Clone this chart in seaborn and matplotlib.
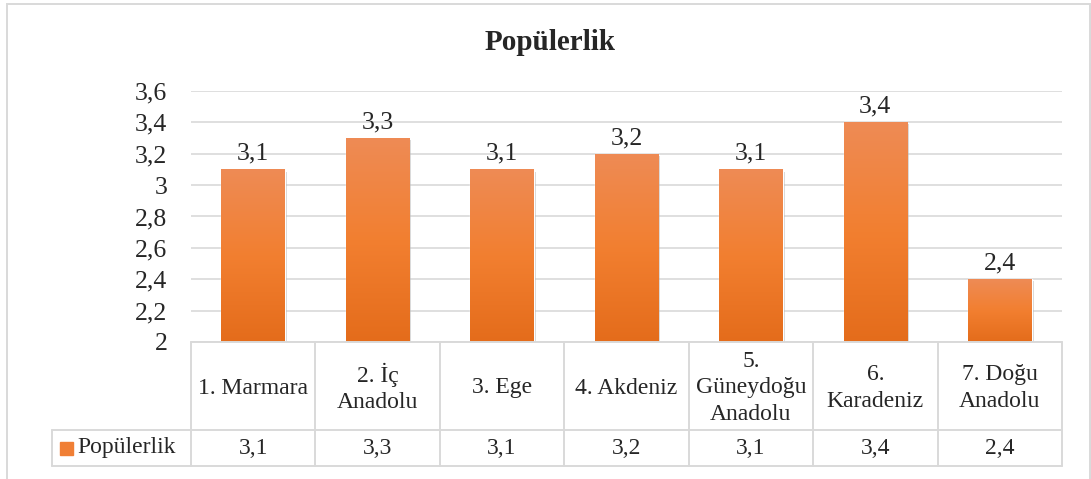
import matplotlib.pyplot as plt
import matplotlib.patheffects as pe
import numpy as np
import seaborn as sns
from matplotlib.colors import LinearSegmentedColormap
from matplotlib.lines import Line2D
from matplotlib.patches import Rectangle
from matplotlib.transforms import blended_transform_factory

# Data
categories = ['1. Marmara', '2. İç\nAnadolu', '3. Ege', '4. Akdeniz',
              '5.\nGüneydoğu\nAnadolu', '6.\nKaradeniz', '7. Doğu\nAnadolu']
values = [3.1, 3.3, 3.1, 3.2, 3.1, 3.4, 2.4]
value_labels = ['3,1', '3,3', '3,1', '3,2', '3,1', '3,4', '2,4']
series_name = 'Popülerlik'
yticks = [2.0, 2.2, 2.4, 2.6, 2.8, 3.0, 3.2, 3.4, 3.6]
ytick_labels = ['2', '2,2', '2,4', '2,6', '2,8', '3', '3,2', '3,4', '3,6']

sns.set_style('white')
plt.rcParams['font.family'] = ['Liberation Serif', 'DejaVu Serif']

W, H = 1091, 479
fig = plt.figure(figsize=(W / 100, H / 100), dpi=100)

def fx(px):
    return px / W

def fy(py):
    return 1 - py / H

# plot area in pixels
left, right, top, base = 191, 1062, 91, 342
ax = fig.add_axes([fx(left), fy(base), fx(right - left), (base - top) / H])

grad = LinearSegmentedColormap.from_list('og', ['#E46C1B', '#F27F30', '#EE8B55'])

sns.barplot(x=list(range(len(values))), y=values, ax=ax, width=0.51,
            color='#F27F30', saturation=1, zorder=3)

ax.set_ylim(2, 3.6)
ax.set_xlim(-0.5, len(values) - 0.5)
ax.set_yticks(yticks)
ax.set_yticklabels(ytick_labels, fontsize=18.5)
ax.tick_params(axis='y', length=0, pad=17)
ax.set_xticks([])
ax.set_xlabel('')
ax.yaxis.grid(True, color='#D9D9D9', lw=1.2, zorder=0)
for s in ax.spines.values():
    s.set_visible(False)

# gradient fill + soft shadow for each bar
g = np.linspace(0, 1, 256).reshape(-1, 1)
for p, lab in zip(ax.patches, value_labels):
    x0, w, h = p.get_x(), p.get_width(), p.get_height()
    p.set_path_effects([pe.SimplePatchShadow(offset=(1.5, -1.5), shadow_rgbFace='#999999', alpha=0.45),
                        pe.Normal()])
    im = ax.imshow(g, cmap=grad, aspect='auto', origin='lower',
                   extent=(x0, x0 + w, 2, h), zorder=4)
    im.set_clip_path(p)
    ax.text(x0 + w / 2, h + 0.03, lab, ha='center', va='bottom', fontsize=18.5, zorder=5)

# title
fig.text(0.504, fy(43), series_name, ha='center', va='center',
         fontsize=21, fontweight='bold')

# data table under the axis
tr = blended_transform_factory(ax.transData, fig.transFigure)
line_kw = dict(color='#D9D9D9', lw=1.4)
y_head_top, y_mid, y_bot = fy(342), fy(430), fy(466)
for i in range(len(values) + 1):
    fig.add_artist(Line2D([i - 0.5, i - 0.5], [y_head_top, y_bot], transform=tr, **line_kw))
fig.add_artist(Line2D([-0.5, len(values) - 0.5], [y_head_top, y_head_top], transform=tr, **line_kw))
fig.add_artist(Line2D([fx(52), fx(right)], [y_mid, y_mid], **line_kw))
fig.add_artist(Line2D([fx(52), fx(right)], [y_bot, y_bot], **line_kw))
fig.add_artist(Line2D([fx(52), fx(52)], [y_mid, y_bot], **line_kw))

for i, (cat, lab) in enumerate(zip(categories, value_labels)):
    fig.text(i, fy(388), cat, transform=tr, ha='center', va='center',
             fontsize=17, linespacing=1.35)
    fig.text(i, fy(448), lab, transform=tr, ha='center', va='center', fontsize=17)

# legend key in table
fig.add_artist(Rectangle((fx(60), fy(455)), fx(13), 13 / H, color='#F07F35'))
fig.text(fx(77), fy(448), series_name, ha='left', va='center', fontsize=17)

# chart border
fig.add_artist(Rectangle((fx(7), -0.05), fx(1083), fy(4) + 0.05, fill=False,
                         edgecolor='#D9D9D9', lw=1.4))

fig.savefig('out.png', dpi=100)
